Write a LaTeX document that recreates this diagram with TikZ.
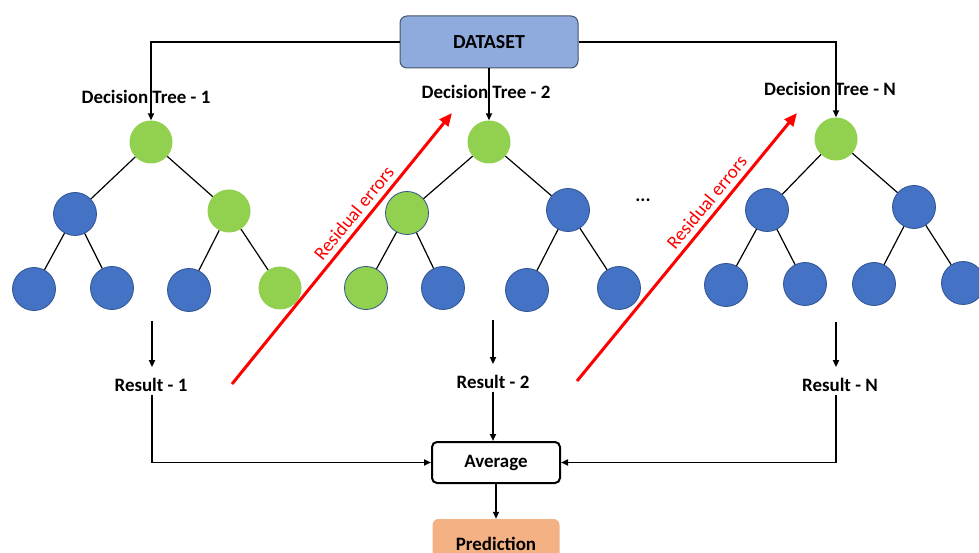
\documentclass[tikz,border=0pt]{standalone}
\usepackage{fontspec}
\setmainfont{Carlito}
\usetikzlibrary{arrows.meta}
\definecolor{nblue}{HTML}{4472C4}
\definecolor{nblueb}{HTML}{2F528F}
\definecolor{ngreen}{HTML}{92D050}
\definecolor{dsfill}{HTML}{8FAADC}
\definecolor{dsdraw}{HTML}{44546A}
\definecolor{predfill}{HTML}{F4B183}
\definecolor{nred}{HTML}{FF0000}
\begin{document}
\begin{tikzpicture}[x=1bp,y=-1bp,
  bnode/.style={circle,minimum size=43bp,inner sep=0pt,fill=nblue,draw=nblueb,line width=0.8bp},
  gnode/.style={circle,minimum size=43bp,inner sep=0pt,fill=ngreen},
  gnodeb/.style={gnode,draw=nblueb,line width=0.8bp},
  tedge/.style={line width=1.2bp,black},
  conn/.style={line width=1.8bp,-{Triangle[length=7bp,width=6bp]}},
  plainline/.style={line width=1.8bp},
  lbl/.style={font=\bfseries\fontsize{19}{22}\selectfont,inner sep=0pt},
  res/.style={lbl,inner sep=3bp},
  redarrow/.style={nred,line width=3bp,-{Triangle[length=13bp,width=11bp]}},
  redlbl/.style={font=\fontsize{19}{22}\selectfont,text=nred,inner sep=5bp}
]
\useasboundingbox (0,0) rectangle (979,553);

% dataset
\node[draw=dsdraw,line width=1bp,fill=dsfill,rounded corners=7bp,minimum width=178bp,minimum height=52bp,
  font=\bfseries\fontsize{20}{24}\selectfont] (ds) at (489,42) {DATASET};

% tree 1
\node[gnode] (t1r) at (151,142) {};
\node[bnode] (t1a) at (75,214) {};
\node[gnode] (t1b) at (229,211) {};
\node[bnode] (t1c) at (34,289) {};
\node[bnode] (t1d) at (112,288) {};
\node[bnode] (t1e) at (189,290) {};
\node[gnode] (t1f) at (280,288) {};
% tree 2
\node[gnode] (t2r) at (489,142) {};
\node[gnodeb] (t2a) at (407,213) {};
\node[bnode] (t2b) at (568,210) {};
\node[gnodeb] (t2c) at (366,288) {};
\node[bnode] (t2d) at (443,288) {};
\node[bnode] (t2e) at (527,290) {};
\node[bnode] (t2f) at (619,288) {};
% tree N
\node[gnode] (tNr) at (836,139) {};
\node[bnode] (tNa) at (767,210) {};
\node[bnode] (tNb) at (914,207) {};
\node[bnode] (tNc) at (726,285) {};
\node[bnode] (tNd) at (805,284) {};
\node[bnode] (tNe) at (874,284) {};
\node[bnode] (tNf) at (963,283) {};

\foreach \t in {1,2,N}{
  \draw[tedge] (t\t r) -- (t\t a);
  \draw[tedge] (t\t r) -- (t\t b);
  \draw[tedge] (t\t a) -- (t\t c);
  \draw[tedge] (t\t a) -- (t\t d);
  \draw[tedge] (t\t b) -- (t\t e);
  \draw[tedge] (t\t b) -- (t\t f);
}

% dataset connectors
\draw[conn] (ds.west) -| (t1r.north);
\draw[conn] (ds.east) -| (tNr.north);
\draw[conn] (ds.south) -- (t2r.north);

% labels
\node[lbl] (l1) at (146,97) {Decision Tree - 1};
\node[lbl] (l2) at (486,92) {Decision Tree - 2};
\node[lbl] (lN) at (830,89) {Decision Tree - N};
\node[lbl] (dots) at (643,200) {...};

% results
\node[res] (r1) at (151,385) {Result - 1};
\node[res] (r2) at (493,382) {Result - 2};
\node[res] (rN) at (840,385) {Result - N};
\coordinate (a1) at (152,321);
\coordinate (a2) at (493,320);
\coordinate (aN) at (836,322);
\draw[conn,shorten >=8bp] (a1) -- (a1 |- r1.north);
\draw[conn,shorten >=8bp] (a2) -- (a2 |- r2.north);
\draw[conn,shorten >=8bp] (aN) -- (aN |- rN.north);

% average and prediction
\node[draw,line width=2bp,rounded corners=5bp,fill=white,minimum width=128bp,minimum height=41bp,
  font=\bfseries\fontsize{19}{22}\selectfont] (avg) at (496,462.5) {Average};
\node[fill=predfill,rounded corners=6bp,minimum width=127bp,minimum height=50bp,
  font=\bfseries\fontsize{19}{22}\selectfont] (pred) at (496,544) {Prediction};

\draw[conn] (a1 |- r1.south) |- (avg.west);
\draw[conn] (aN |- rN.south) |- (avg.east);
\draw[conn] (a2 |- r2.south) -- (a2 |- avg.north);
\draw[conn] (avg.south) -- (pred.north);

% residual arrows
\coordinate (e1s) at (232,384);
\coordinate (e1e) at (452,113);
\coordinate (e2s) at (577,381);
\coordinate (e2e) at (797,113);
\draw[redarrow] (e1s) -- node[redlbl,pos=0.6,sloped,above] (re1) {Residual errors} (e1e);
\draw[redarrow] (e2s) -- node[redlbl,pos=0.636,sloped,above] (re2) {Residual errors} (e2e);
\end{tikzpicture}
\end{document}
